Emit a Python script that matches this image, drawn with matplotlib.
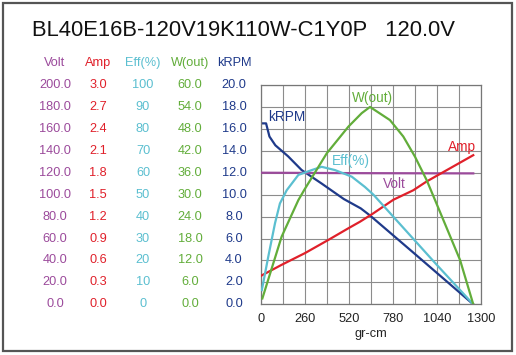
import matplotlib
matplotlib.use("Agg")
import matplotlib.pyplot as plt
import matplotlib.transforms as mtransforms
from matplotlib.patches import Rectangle

plt.rcParams['font.family'] = ['Liberation Sans', 'DejaVu Sans']

title = "BL40E16B-120V19K110W-C1Y0P   120.0V"

# curves (torque in gr-cm)
volt_torque = [0, 300, 600, 900, 1256]
volt = [120.0, 119.8, 119.6, 119.5, 119.4]

amp_torque = [0, 122, 260, 398, 517, 586, 665, 783, 901, 980, 1256]
amp = [0.39, 0.54, 0.70, 0.88, 1.04, 1.13, 1.245, 1.43, 1.56, 1.68, 2.04]

eff_torque = [5, 43, 83, 112, 152, 221, 300, 359, 438, 537, 615, 665, 1040, 1256]
eff = [6.5, 21.7, 37, 46, 52, 59, 61.2, 62.7, 61.2, 58.2, 53.5, 50.0, 18.0, 0]

w_torque = [8, 122, 221, 256, 389, 517, 596, 645, 763, 842, 911, 980, 1030, 1178, 1256]
w_out = [1.6, 18.5, 28.5, 31.3, 41.3, 48.6, 52.3, 54.0, 50.4, 45.9, 40.4, 34.0, 28.5, 12.1, 0]

rpm_torque = [0, 30, 50, 85, 160, 240, 360, 490, 590, 645, 910, 1256]
krpm = [16.5, 16.5, 15.3, 14.5, 13.5, 12.25, 11.0, 9.6, 8.75, 8.1, 4.6, 0]

x_ticks = [0, 260, 520, 780, 1040, 1300]

# name, max of scale, tick format, colour, column centre (px)
columns = [
    ("Volt", 200, "{:.1f}", "#9b4a9b", 55),
    ("Amp", 3.0, "{:.1f}", "#e0202a", 98),
    ("Eff(%)", 100, "{:.0f}", "#5bbfd0", 143),
    ("W(out)", 60, "{:.1f}", "#62ad3a", 190),
    ("kRPM", 20, "{:.1f}", "#1f3a8a", 234),
]

W, H = 516, 355
fig = plt.figure(figsize=(W / 100, H / 100), dpi=100)

# frame around the picture
fig.patches.append(Rectangle((3 / W, 4 / H), 509 / W, 348 / H, transform=fig.transFigure,
                             fill=False, edgecolor="#555555", linewidth=1.6))

ax = fig.add_axes([261 / W, (H - 304.3) / H, 219.7 / W, 219.3 / H])
ax.set_xlim(0, 1300)
ax.set_ylim(0, 20)
ax.set_xticks(range(0, 1301, 130))
ax.set_yticks(range(0, 21, 2))
ax.grid(True, color="#8c8c8c", linewidth=0.8)
ax.tick_params(length=0, labelleft=False, labelbottom=False)
for s in ax.spines.values():
    s.set_color("#777777")
    s.set_linewidth(0.9)

axes = {}
for name, top, fmt, color, cx in columns:
    a = ax if name == "kRPM" else ax.twinx()
    a.set_ylim(0, top)
    if a is not ax:
        a.set_yticks([])
        for s in a.spines.values():
            s.set_visible(False)
    axes[name] = a
    # tick labels of this scale, left of the chart
    tr = mtransforms.blended_transform_factory(fig.transFigure, a.transData)
    for i in range(11):
        v = top * i / 10
        a.text(cx / W, v, fmt.format(v), transform=tr, ha="center", va="center",
               color=color, fontsize=9.2, clip_on=False)
    fig.text(cx / W, 1 - 63 / H, name, ha="center", va="center", color=color, fontsize=9.2)

cols = {c[0]: c[3] for c in columns}
axes["Eff(%)"].plot(eff_torque, eff, color=cols["Eff(%)"], linewidth=1.6)
axes["W(out)"].plot(w_torque, w_out, color=cols["W(out)"], linewidth=1.6)
axes["kRPM"].plot(rpm_torque, krpm, color=cols["kRPM"], linewidth=1.6)
axes["Volt"].plot(volt_torque, volt, color=cols["Volt"], linewidth=1.6)
axes["Amp"].plot(amp_torque, amp, color=cols["Amp"], linewidth=1.6)

# curve names inside the chart (positions on the kRPM scale)
lab = axes["Amp"]
for name, (tx, ty) in {"kRPM": (154, 17.1), "W(out)": (657, 18.8), "Eff(%)": (532, 13.07),
                       "Amp": (1188, 14.37), "Volt": (788, 11.0)}.items():
    lab.text(tx, ty * 3.0 / 20, name, ha="center", va="center", color=cols[name], fontsize=9.8)

# x tick labels and axis title
for t in x_ticks:
    ax.text(t, -1.3, str(t), ha="center", va="center", color="#222222", fontsize=9.2, clip_on=False)
ax.text(650, -2.75, "gr-cm", ha="center", va="center", color="#222222", fontsize=9.2, clip_on=False)

fig.text(32 / W, 1 - 31 / H, title, ha="left", va="center", fontsize=15.8, color="#111111")

fig.savefig("out.png", dpi=100)
